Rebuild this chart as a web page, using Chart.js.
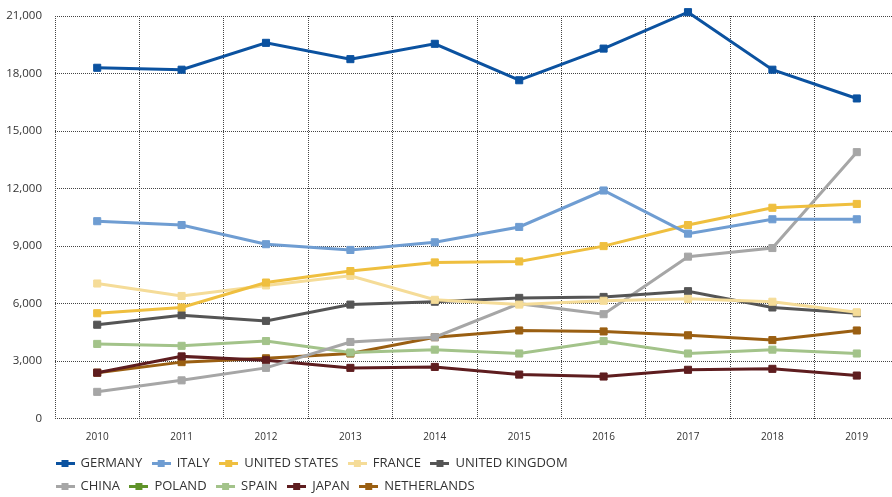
<!DOCTYPE html>
<html>
<head>
<meta charset="utf-8">
<script src="https://cdn.jsdelivr.net/npm/chart.js@4"></script>
<style>
  html, body { margin: 0; padding: 0; background: #fff; overflow: hidden; }
  canvas { display: block; }
</style>
</head>
<body>
<canvas id="chart" width="905" height="497"></canvas>
<script>
const years = ['2010', '2011', '2012', '2013', '2014', '2015', '2016', '2017', '2018', '2019'];

const germany = [18300, 18200, 19600, 18750, 19550, 17650, 19300, 21200, 18200, 16700];
const italy = [10300, 10100, 9100, 8800, 9200, 10000, 11900, 9650, 10400, 10400];
const unitedStates = [5500, 5800, 7100, 7700, 8150, 8200, 9000, 10100, 11000, 11200];
const france = [7050, 6400, 6950, 7450, 6200, 5950, 6150, 6250, 6100, 5550];
const unitedKingdom = [4900, 5400, 5100, 5950, 6100, 6300, 6350, 6650, 5800, 5500];
const china = [1400, 2000, 2650, 4000, 4250, 6000, 5450, 8450, 8900, 13900];
const poland = [null, null, null, null, null, null, null, null, null, null];
const spain = [3900, 3800, 4050, 3450, 3600, 3400, 4050, 3400, 3600, 3400];
const japan = [2400, 3250, 3050, 2650, 2700, 2300, 2200, 2550, 2600, 2250];
const netherlands = [2400, 2950, 3150, 3400, 4250, 4600, 4550, 4350, 4100, 4600];

const yTicks = [0, 3000, 6000, 9000, 12000, 15000, 18000, 21000];

const seriesNames = ['GERMANY', 'ITALY', 'UNITED STATES', 'FRANCE', 'UNITED KINGDOM',
  'CHINA', 'POLAND', 'SPAIN', 'JAPAN', 'NETHERLANDS'];
const seriesData = [germany, italy, unitedStates, france, unitedKingdom,
  china, poland, spain, japan, netherlands];
const seriesColors = ['#0b52a0', '#6f9dd2', '#efbf3f', '#f5dc98', '#555555',
  '#a6a6a6', '#5f9329', '#a3c38a', '#5e1d1f', '#9a5f12'];

const font = "'Open Sans', 'DejaVu Sans', sans-serif";

// small line + square marker for the legend
function legendMarker(color) {
  const c = document.createElement('canvas');
  c.width = 19;
  c.height = 9;
  const ctx = c.getContext('2d');
  ctx.fillStyle = color;
  ctx.fillRect(0, 3, 19, 3);
  ctx.fillRect(6, 1, 7, 7);
  return c;
}

const datasets = seriesNames.map((name, i) => ({
  label: name,
  data: seriesData[i],
  borderColor: seriesColors[i],
  backgroundColor: seriesColors[i],
  pointBackgroundColor: seriesColors[i],
  pointBorderColor: seriesColors[i],
  borderWidth: 3,
  pointStyle: 'rect',
  pointRadius: 5,
  pointBorderWidth: 1,
  tension: 0,
  clip: false
}));

// push the legend right and wrap it after five items
const legendPlacement = {
  id: 'legendPlacement',
  afterLayout(chart) {
    const lg = chart.legend;
    lg.maxWidth = 570;
    lg.fit();
    lg.left = 46;
    lg.right = 46 + 570;
    lg.top += 6;
    lg.bottom += 6;
  }
};

new Chart(document.getElementById('chart'), {
  type: 'line',
  data: { labels: years, datasets: datasets },
  plugins: [legendPlacement],
  options: {
    responsive: false,
    animation: false,
    layout: { padding: { top: 16, right: 4, left: 0, bottom: 0 } },
    plugins: {
      tooltip: { enabled: false },
      legend: {
        position: 'bottom',
        align: 'start',
        labels: {
          usePointStyle: true,
          pointStyleWidth: 18,
          padding: 10,
          color: '#333',
          font: { family: font, size: 13 },
          generateLabels(chart) {
            const items = Chart.defaults.plugins.legend.labels.generateLabels(chart);
            items.forEach((item, i) => { item.pointStyle = legendMarker(seriesColors[i]); });
            return items;
          }
        }
      }
    },
    scales: {
      x: {
        offset: true,
        grid: { offset: true, color: '#444', lineWidth: 1, drawTicks: false },
        border: { display: false, dash: [1, 1] },
        ticks: { color: '#333', padding: 12, font: { family: font, size: 10 } },
        afterFit(scale) { scale.height = 22.3; }
      },
      y: {
        min: 0,
        max: 21000,
        grid: { color: '#444', lineWidth: 1, drawTicks: true, tickLength: 11, tickColor: 'rgba(0,0,0,0)' },
        border: { display: false, dash: [1, 1] },
        afterBuildTicks(scale) { scale.ticks = yTicks.map(v => ({ value: v })); },
        ticks: {
          color: '#333',
          padding: 2,
          font: { family: font, size: 11.5 },
          callback: v => v.toLocaleString('en-US')
        },
        afterFit(scale) { scale.width = 55; }
      }
    }
  }
});
</script>
</body>
</html>
